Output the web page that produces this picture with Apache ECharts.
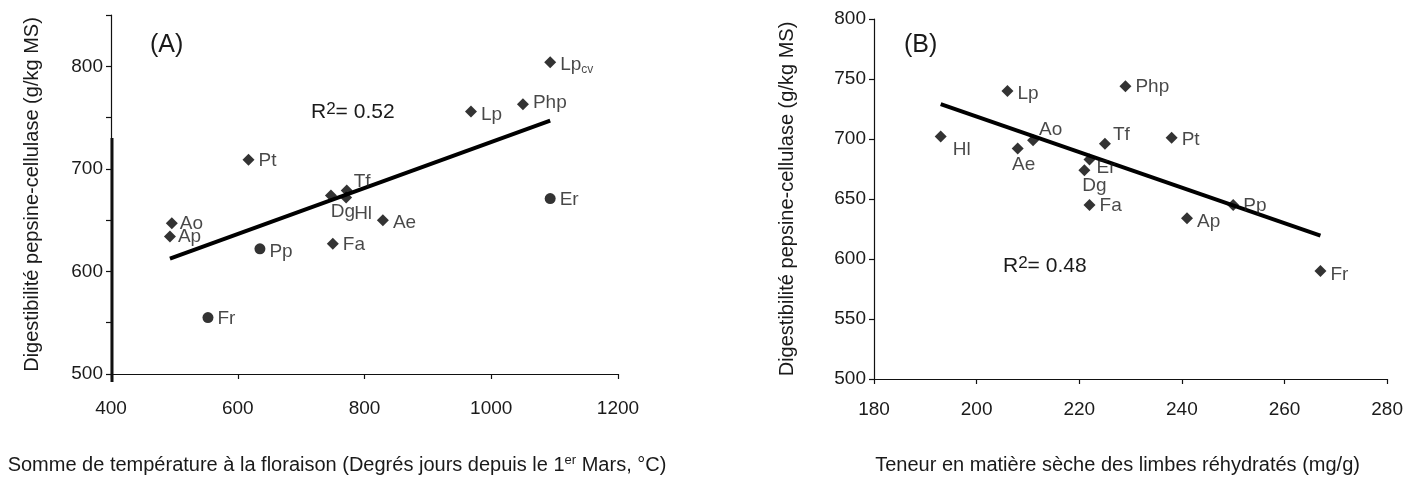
<!DOCTYPE html>
<html><head><meta charset="utf-8">
<script src="https://cdn.jsdelivr.net/npm/echarts@6/dist/echarts.min.js"></script>
<style>html,body{margin:0;padding:0;background:#fff}#c{width:1406px;height:480px}</style>
</head><body><div id="c"></div>
<script>
// Panel A data
const namesA = ['Lpcv','Php','Lp','Pt','Tf','Dg','Hl','Ae','Ao','Ap','Pp','Fa','Er','Fr'];
const tempA  = [1093,1050,968,617,772,747,771,829,496,493,635,750,1093,553];
const digA   = [804,763,756,709,679,674,672,650,647,634,622,627,671,555];
const trendA = [[493,612.5],[1093,747]];
const r2A = '0.52';
const xTicksA = [400,600,800,1000,1200];
const yTicksA = [500,600,700,800];

// Panel B data
const namesB = ['Lp','Php','Hl','Ao','Ae','Tf','Pt','Er','Dg','Fa','Ap','Pp','Fr'];
const msB    = [206,229,193,211,208,225,238,222,221,222,241,250,267];
const digB   = [740,744,702,699,692,696,701,683,674,645,634,645,590];
const trendB = [[193,729],[267,619.5]];
const r2B = '0.48';
const xTicksB = [180,200,220,240,260,280];
const yTicksB = [500,550,600,650,700,750,800];

const FONT = 'Liberation Sans, Arial, sans-serif';
const TXT = '#1a1a1a';

// label placement (style only)
const labA = {
  Lpcv:{position:'right',offset:[0,3]}, Php:{position:'right',offset:[0,-1]}, Lp:{position:'right',offset:[0,3]},
  Pt:{position:'right',offset:[0,1]}, Tf:{position:'right',offset:[-3,-9]}, Dg:{position:'bottom',offset:[12,-3]},
  Hl:{position:'bottom',offset:[17,-3]}, Ae:{position:'right',offset:[0,3]}, Ao:{position:'right',offset:[-2,1]},
  Ap:{position:'right',offset:[-2,0]}, Pp:{position:'right',offset:[0,3]}, Fa:{position:'right',offset:[0,1]},
  Er:{position:'right',offset:[0,1]}, Fr:{position:'right',offset:[0,1]}
};
const symA = {Er:'circle',Fr:'circle',Pp:'circle'};
const labB = {
  Lp:{position:'right',offset:[0,3]}, Php:{position:'right',offset:[0,1]}, Hl:{position:'right',offset:[2,13]},
  Ao:{position:'right',offset:[-4,-10]}, Ae:{position:'bottom',offset:[6,-3]}, Tf:{position:'right',offset:[-2,-9]},
  Pt:{position:'right',offset:[0,2]}, Er:{position:'right',offset:[-3,8]}, Dg:{position:'bottom',offset:[10,-4]},
  Fa:{position:'right',offset:[0,1]}, Ap:{position:'right',offset:[0,4]}, Pp:{position:'right',offset:[0,1]},
  Fr:{position:'right',offset:[0,4]}
};

function pts(names, xs, ys, labs, syms){
  return names.map((n,i)=>({
    name:n, value:[xs[i],ys[i]],
    symbol:(syms&&syms[n])||'diamond',
    symbolSize:(syms&&syms[n])?11:12,
    label:Object.assign({show:true}, labs[n])
  }));
}

const labelStyle = {
  color:TXT, fontFamily:FONT, fontSize:19, distance:4,
  formatter:p => p.name==='Lpcv' ? 'Lp{sub|cv}' : p.name,
  rich:{sub:{fontSize:12, fontFamily:FONT, color:TXT, padding:[10,0,0,0]}}
};

const axisCommon = {
  axisLine:{show:true,lineStyle:{color:'#111',width:1.2}},
  axisTick:{show:true,inside:false,length:5,lineStyle:{color:'#111',width:1.2}},
  splitLine:{show:false},
  axisLabel:{color:TXT,fontFamily:FONT,fontSize:19,formatter:v=>String(v)},
  nameTextStyle:{color:TXT,fontFamily:FONT,fontSize:20}
};

function merge(a,b){return Object.assign({},a,b);}

const chart = echarts.init(document.getElementById('c'),null,{renderer:'canvas'});
chart.setOption({
  animation:false,
  backgroundColor:'#fff',
  grid:[
    {left:111, top:15, width:507, height:367},
    {left:874, top:19, width:514, height:368}
  ],
  xAxis:[
    merge(axisCommon,{gridIndex:0,type:'value',min:xTicksA[0],max:xTicksA[xTicksA.length-1],interval:200,
      axisLabel:merge(axisCommon.axisLabel,{margin:25}),
      name:'Somme de température à la floraison (Degrés jours depuis le 1{sup|er} Mars, °C)',
      nameLocation:'middle',nameGap:80,
      nameTextStyle:merge(axisCommon.nameTextStyle,{padding:[0,55,0,0],
        rich:{sup:{fontSize:13,fontFamily:FONT,color:TXT,padding:[0,0,9,0]}}})}),
    merge(axisCommon,{gridIndex:1,type:'value',min:xTicksB[0],max:xTicksB[xTicksB.length-1],interval:20,
      axisLabel:merge(axisCommon.axisLabel,{margin:21}),
      name:'Teneur en matière sèche des limbes réhydratés (mg/g)',
      nameLocation:'middle',nameGap:76,
      nameTextStyle:merge(axisCommon.nameTextStyle,{padding:[0,26,0,0]})})
  ],
  yAxis:[
    merge(axisCommon,{gridIndex:0,type:'value',min:500,max:850,interval:50,
      axisLabel:merge(axisCommon.axisLabel,{margin:8,formatter:v=>yTicksA.includes(v)?String(v):''}),
      name:'Digestibilité pepsine-cellulase (g/kg MS)',nameLocation:'middle',nameGap:69}),
    merge(axisCommon,{gridIndex:1,type:'value',min:yTicksB[0],max:yTicksB[yTicksB.length-1],interval:50,
      axisLabel:merge(axisCommon.axisLabel,{margin:8}),
      name:'Digestibilité pepsine-cellulase (g/kg MS)',nameLocation:'middle',nameGap:77})
  ],
  series:[
    {type:'line',xAxisIndex:0,yAxisIndex:0,data:trendA,showSymbol:false,symbol:'none',
      lineStyle:{color:'#000',width:4},z:2},
    {type:'scatter',xAxisIndex:0,yAxisIndex:0,data:pts(namesA,tempA,digA,labA,symA),
      itemStyle:{color:'#000'},label:labelStyle,z:3},
    {type:'line',xAxisIndex:1,yAxisIndex:1,data:trendB,showSymbol:false,symbol:'none',
      lineStyle:{color:'#000',width:4},z:2},
    {type:'scatter',xAxisIndex:1,yAxisIndex:1,data:pts(namesB,msB,digB,labB,null),
      itemStyle:{color:'#000'},label:labelStyle,z:3}
  ],
  graphic:[
    {type:'text',left:150,top:33,style:{text:'(A)',fontSize:25,fontFamily:FONT,fill:TXT}},
    {type:'text',left:904,top:33,style:{text:'(B)',fontSize:25,fontFamily:FONT,fill:TXT}},
    {type:'text',left:311,top:101,style:{text:'R{sup|2}= '+r2A,fontSize:21,fontFamily:FONT,fill:TXT,
      rich:{sup:{fontSize:17,fontFamily:FONT,fill:TXT,padding:[0,0,6,0]}}}},
    {type:'text',left:1003,top:255,style:{text:'R{sup|2}= '+r2B,fontSize:21,fontFamily:FONT,fill:TXT,
      rich:{sup:{fontSize:17,fontFamily:FONT,fill:TXT,padding:[0,0,6,0]}}}},
    {type:'line',shape:{x1:112,y1:138,x2:112,y2:382},style:{stroke:'#111',lineWidth:3}}
  ]
});
</script></body></html>
